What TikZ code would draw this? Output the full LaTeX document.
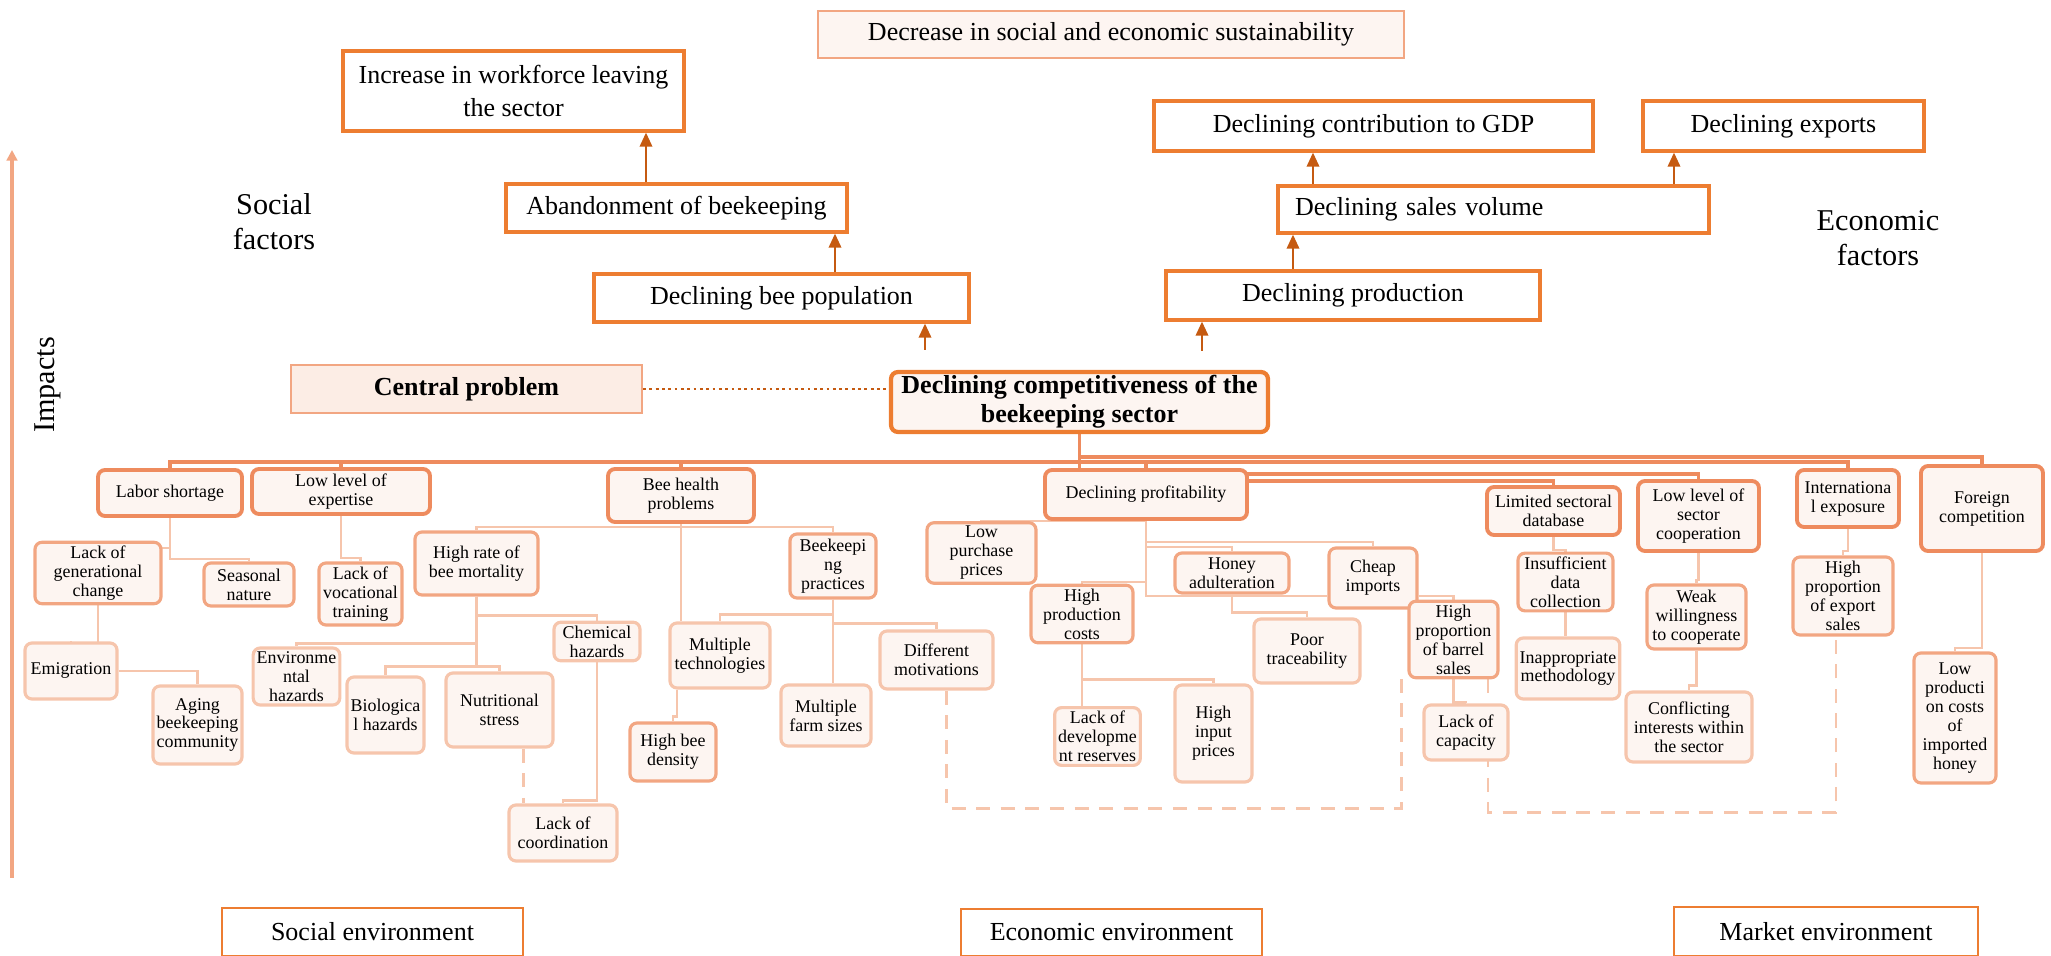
\documentclass[tikz,border=0pt]{standalone}
\usepackage{fontspec}
\setmainfont{Liberation Serif}
\usetikzlibrary{arrows.meta,positioning,backgrounds}

\definecolor{orangeline}{HTML}{ED7D31}
\definecolor{darkarrow}{HTML}{C55A11}
\definecolor{catline}{HTML}{EE8B5E}
\definecolor{midline}{HTML}{F2A682}
\definecolor{leafline}{HTML}{F6C5AC}
\definecolor{palefill}{HTML}{FDF5F1}
\definecolor{cpfill}{HTML}{FCEDE5}

\newcommand{\bigtxt}{\fontsize{7.4}{9.4}\selectfont}
\newcommand{\smalltxt}{\fontsize{5.1}{5.4}\selectfont}

\tikzset{
 effect/.style={draw=orangeline, line width=0.9pt, fill=white, align=center, font=\bigtxt, inner sep=1pt},
 goal/.style={effect, draw=midline, line width=0.7pt, fill=palefill},
 core/.style={effect, line width=1.2pt, fill=palefill, rounded corners=2pt, font=\fontsize{7.4}{8.2}\selectfont\bfseries},
 tag/.style={effect, draw=midline, line width=0.6pt, fill=cpfill, font=\bigtxt\bfseries},
 catbox/.style={draw=catline, line width=1.1pt, fill=palefill, rounded corners=2pt, align=center, font=\smalltxt, inner sep=1pt},
 causebox/.style={catbox, draw=midline, line width=0.9pt},
 leafbox/.style={catbox, draw=leafline, line width=0.9pt},
 envbox/.style={draw=orangeline, line width=0.5pt, fill=white, font=\bigtxt},
 sidetext/.style={align=center, font=\fontsize{8.6}{10}\selectfont},
 uparrow/.style={-{Triangle[length=4pt,width=3.5pt]}, draw=darkarrow, line width=0.7pt},
 impline/.style={-{Triangle[length=3pt,width=3pt]}, draw=midline, line width=1pt},
 buslink/.style={draw=catline, line width=1.1pt},
 sublink/.style={draw=leafline, line width=0.8pt},
 dashlink/.style={sublink, dashed, dash pattern=on 4pt off 3pt},
 dotlink/.style={draw=darkarrow, line width=0.8pt, densely dotted}
}

\begin{document}
\begin{tikzpicture}
 \useasboundingbox (0,0) rectangle (20.51,-9.56);

 \node[goal, minimum width=5.86cm, minimum height=0.47cm] (sust) at (11.11,-0.345) {Decrease in social and economic sustainability};
 \node[effect, minimum width=3.41cm, minimum height=0.80cm] (workf) at (5.135,-0.91) {Increase in workforce leaving\\the sector};
 \node[effect, minimum width=3.41cm, minimum height=0.48cm] (aband) at (6.765,-2.08) {Abandonment of beekeeping};
 \node[effect, minimum width=3.75cm, minimum height=0.48cm] (beepop) at (7.815,-2.98) {Declining bee population};
 \node[effect, minimum width=4.39cm, minimum height=0.50cm] (gdp) at (13.735,-1.26) {Declining contribution to GDP};
 \node[effect, minimum width=2.81cm, minimum height=0.50cm] (exports) at (17.835,-1.26) {Declining exports};
 \node[effect, minimum height=0.47cm, text width=3.97cm, inner xsep=0.17cm, align=left] (sales) at (14.935,-2.095) {Declining sales volume};
 \node[effect, minimum width=3.74cm, minimum height=0.49cm] (prod) at (13.53,-2.955) {Declining production};
 \node[core, minimum width=3.77cm, minimum height=0.60cm] (central) at (10.795,-4.02) {Declining competitiveness of the\\beekeeping sector};
 \node[tag, minimum width=3.51cm, minimum height=0.48cm] (cprob) at (4.665,-3.89) {Central problem};

 \node[sidetext] (socf) at (2.74,-2.22) {Social\\factors};
 \node[sidetext] (ecof) at (18.78,-2.38) {Economic\\factors};
 \node[sidetext, rotate=90] (impl) at (0.48,-3.85) {Impacts};

 \node[catbox, minimum width=1.44cm, minimum height=0.46cm] (labor) at (1.70,-4.93) {Labor shortage};
 \node[catbox, minimum width=1.78cm, minimum height=0.45cm] (expert) at (3.41,-4.915) {Low level of\\expertise};
 \node[catbox, minimum width=1.46cm, minimum height=0.53cm] (beeh) at (6.81,-4.955) {Bee health\\problems};
 \node[catbox, minimum width=2.02cm, minimum height=0.49cm] (profit) at (11.46,-4.945) {Declining profitability};
 \node[catbox, minimum width=1.33cm, minimum height=0.48cm] (limdb) at (15.535,-5.11) {Limited sectoral\\database};
 \node[catbox, minimum width=1.21cm, minimum height=0.70cm] (coop) at (16.985,-5.16) {Low level of\\sector\\cooperation};
 \node[catbox, minimum width=1.02cm, minimum height=0.57cm] (intl) at (18.48,-4.985) {Internationa\\l exposure};
 \node[catbox, minimum width=1.22cm, minimum height=0.85cm] (foreign) at (19.82,-5.085) {Foreign\\competition};

 \node[causebox, minimum width=1.26cm, minimum height=0.40cm] (gen) at (0.98,-5.73) {Lack of\\generational\\change};
 \node[causebox, minimum width=0.90cm, minimum height=0.43cm] (season) at (2.49,-5.845) {Seasonal\\nature};
 \node[leafbox, minimum width=0.92cm, minimum height=0.56cm] (emig) at (0.71,-6.71) {Emigration};
 \node[leafbox, minimum width=0.89cm, minimum height=0.78cm] (aging) at (1.975,-7.25) {Aging\\beekeeping\\community};
 \node[causebox, minimum width=0.83cm, minimum height=0.62cm] (voc) at (3.605,-5.94) {Lack of\\vocational\\training};
 \node[causebox, minimum width=1.23cm, minimum height=0.63cm] (mort) at (4.765,-5.635) {High rate of\\bee mortality};
 \node[leafbox, minimum width=0.86cm, minimum height=0.37cm] (chem) at (5.97,-6.415) {Chemical\\hazards};
 \node[leafbox, minimum width=0.85cm, minimum height=0.53cm] (envh) at (2.965,-6.765) {Environme\\ntal\\hazards};
 \node[leafbox, minimum width=0.77cm, minimum height=0.76cm] (bioh) at (3.855,-7.15) {Biologica\\l hazards};
 \node[leafbox, minimum width=1.07cm, minimum height=0.74cm] (nutr) at (4.995,-7.10) {Nutritional\\stress};
 \node[leafbox, minimum width=1.08cm, minimum height=0.56cm] (coord) at (5.63,-8.33) {Lack of\\coordination};
 \node[leafbox, minimum width=1.00cm, minimum height=0.65cm] (multech) at (7.20,-6.555) {Multiple\\technologies};
 \node[causebox, minimum width=0.86cm, minimum height=0.58cm] (beedens) at (6.73,-7.52) {High bee\\density};
 \node[causebox, minimum width=0.86cm, minimum height=0.64cm] (practice) at (8.33,-5.66) {Beekeepi\\ng\\practices};
 \node[leafbox, minimum width=0.90cm, minimum height=0.61cm] (farmsz) at (8.26,-7.155) {Multiple\\farm sizes};
 \node[leafbox, minimum width=1.13cm, minimum height=0.58cm] (motiv) at (9.365,-6.60) {Different\\motivations};
 \node[causebox, minimum width=1.09cm, minimum height=0.52cm] (lowpur) at (9.815,-5.53) {Low\\purchase\\prices};
 \node[causebox, minimum width=1.02cm, minimum height=0.54cm] (prodcost) at (10.82,-6.14) {High\\production\\costs};
 \node[leafbox, minimum width=0.85cm, minimum height=0.51cm] (devres) at (10.975,-7.365) {Lack of\\developme\\nt reserves};
 \node[leafbox, minimum width=0.77cm, minimum height=0.97cm] (inputpr) at (12.135,-7.335) {High\\input\\prices};
 \node[causebox, minimum width=1.14cm, minimum height=0.40cm] (adult) at (12.32,-5.73) {Honey\\adulteration};
 \node[leafbox, minimum width=1.06cm, minimum height=0.64cm] (trace) at (13.07,-6.51) {Poor\\traceability};
 \node[causebox, minimum width=0.88cm, minimum height=0.60cm] (cheap) at (13.73,-5.78) {Cheap\\imports};
 \node[causebox, minimum width=0.89cm, minimum height=0.69cm] (barrel) at (14.535,-6.395) {High\\proportion\\of barrel\\sales};
 \node[leafbox, minimum width=0.84cm, minimum height=0.55cm] (capac) at (14.66,-7.325) {Lack of\\capacity};
 \node[causebox, minimum width=0.95cm, minimum height=0.50cm] (datacol) at (15.655,-5.82) {Insufficient\\data\\collection};
 \node[leafbox, minimum width=0.96cm, minimum height=0.61cm] (method) at (15.68,-6.685) {Inappropriate\\methodology};
 \node[causebox, minimum width=0.99cm, minimum height=0.64cm] (willing) at (16.965,-6.17) {Weak\\willingness\\to cooperate};
 \node[leafbox, minimum width=1.26cm, minimum height=0.70cm] (conflict) at (16.89,-7.27) {Conflicting\\interests within\\the sector};
 \node[causebox, minimum width=1.00cm, minimum height=0.78cm] (exportsh) at (18.43,-5.96) {High\\proportion\\of export\\sales};
 \node[causebox, minimum width=0.82cm, minimum height=1.30cm] (lowcost) at (19.55,-7.18) {Low\\producti\\on costs\\of\\imported\\honey};

 \node[envbox, minimum width=3.01cm, minimum height=0.48cm] (socenv) at (3.725,-9.32) {Social environment};
 \node[envbox, minimum width=3.01cm, minimum height=0.47cm] (ecoenv) at (11.115,-9.325) {Economic environment};
 \node[envbox, minimum width=3.04cm, minimum height=0.49cm] (mktenv) at (18.26,-9.315) {Market environment};

 \coordinate (upA) at ([xshift=-0.305cm]aband.north);
 \coordinate (upB) at ([xshift=0.535cm]beepop.north);
 \coordinate (upC) at ([xshift=-1.545cm,yshift=0.20cm]central.north);
 \coordinate (upD) at ([xshift=1.225cm,yshift=0.19cm]central.north);
 \coordinate (upE) at ([xshift=-0.60cm]prod.north);
 \coordinate (upF) at ([xshift=-1.805cm]sales.north);
 \coordinate (upG) at ([xshift=1.805cm]sales.north);
 \draw[uparrow] (upA) -- (upA |- workf.south);
 \draw[uparrow] (upB) -- (upB |- aband.south);
 \draw[uparrow] (upC) -- (upC |- beepop.south);
 \draw[uparrow] (upD) -- (upD |- prod.south);
 \draw[uparrow] (upE) -- (upE |- sales.south);
 \draw[uparrow] (upF) -- (upF |- gdp.south);
 \draw[uparrow] (upG) -- (upG |- exports.south);

 \coordinate (impbase) at (0.12,-8.78);
 \coordinate (imptop) at (0.12,-1.50);
 \draw[impline] (impbase) -- (imptop);
 \draw[dotlink] (cprob.east) -- (cprob.east -| central.west);

 \begin{scope}[on background layer]
 \draw[buslink] (central.south) -- ++(0,-0.28) -| (labor.north);
 \draw[buslink] (central.south) -- ++(0,-0.28) -| (expert.north);
 \draw[buslink] (central.south) -- ++(0,-0.28) -| (beeh.north);
 \draw[buslink] (central.south) -- ++(0,-0.28) -| (profit.north);
 \draw[buslink] (central.south) -- ++(0,-0.23) -| (foreign.north);
 \draw[buslink] (central.south) -- ++(0,-0.28) -| (intl.north);
 \draw[buslink] (central.south) -- ++(0,-0.40) -| (coop.north);
 \draw[buslink] (central.south) -- ++(0,-0.47) -| (limdb.north);

 \draw[sublink] (labor.south) -- ++(0,-0.30) -| (gen.north);
 \draw[sublink] (labor.south) -- ++(0,-0.41) -| (season.north);
 \draw[sublink] (gen.south) -- ++(0,-0.44) -| (emig.north);
 \draw[sublink] (emig.east) -| (aging.north);
 \draw[sublink] (expert.south) -- ++(0,-0.42) -| (voc.north);
 \draw[sublink] (beeh.south) -- ++(0,-0.03) -| (mort.north);
 \draw[sublink] (beeh.south) -- ++(0,-0.03) -| (practice.north);
 \draw[sublink] (beeh.south) -- (beeh.south |- multech.north);
 \draw[sublink] ([xshift=-0.43cm]multech.south) -- ++(0,-0.27) -| (beedens.north);
 \draw[sublink] (practice.south) -- ++(0,-0.15) -| (multech.north);
 \draw[sublink] (practice.south) -- ++(0,-0.24) -| (motiv.north);
 \draw[sublink] (practice.south) -- (practice.south |- farmsz.north);
 \draw[sublink] (mort.south) -- ++(0,-0.19) -| (chem.north);
 \draw[sublink] (mort.south) -- ++(0,-0.47) -| (envh.north);
 \draw[sublink] (mort.south) -- ++(0,-0.70) -| (bioh.north);
 \draw[sublink] (mort.south) -- ++(0,-0.70) -| (nutr.north);
 \draw[sublink] (chem.south) -- ++(0,-1.38) -| (coord.north);
 \draw[dashlink] ([xshift=0.24cm]nutr.south) -- ([xshift=0.24cm]nutr.south |- coord.north);

 \draw[sublink] (profit.south) -| (lowpur.north);
 \draw[sublink] (profit.south) -- ++(0,-0.21) -| (cheap.north);
 \draw[sublink] (profit.south) -- ++(0,-0.26) -| (adult.north);
 \draw[sublink] (profit.south) -- ++(0,-0.61) -| (prodcost.north);
 \draw[sublink] (profit.south) |- ([yshift=-0.18cm]cheap.west);
 \draw[sublink] (adult.south) -- ++(0,-0.18) -| (trace.north);
 \draw[sublink] (prodcost.south) -- ++(0,-0.63) -| (devres.north);
 \draw[sublink] (prodcost.south) -- ++(0,-0.35) -| (inputpr.north);
 \draw[sublink] ([yshift=-0.18cm]cheap.east) -| (barrel.north);
 \draw[sublink] (barrel.south) -- ++(0,-0.23) -| (capac.north);
 \draw[sublink] (limdb.south) -- ++(0,-0.13) -| (datacol.north);
 \draw[sublink] (datacol.south) -- (datacol.south |- method.north);
 \draw[sublink] (coop.south) -- ++(0,-0.27) -| (willing.north);
 \draw[sublink] (willing.south) -- ++(0,-0.35) -| (conflict.north);
 \draw[sublink] (intl.south) -- ++(0,-0.22) -| (exportsh.north);
 \draw[sublink] (foreign.south) -- ++(0,-0.95) -| (lowcost.north);

 \draw[dashlink] ([xshift=0.1cm]motiv.south) -- ++(0,-1.18) -| ([xshift=-0.06cm]barrel.south west);
 \draw[dashlink] ([xshift=0.345cm]barrel.south) -- ++(0,-1.33) -| ([xshift=-0.07cm]exportsh.south);
 \end{scope}
\end{tikzpicture}
\end{document}
